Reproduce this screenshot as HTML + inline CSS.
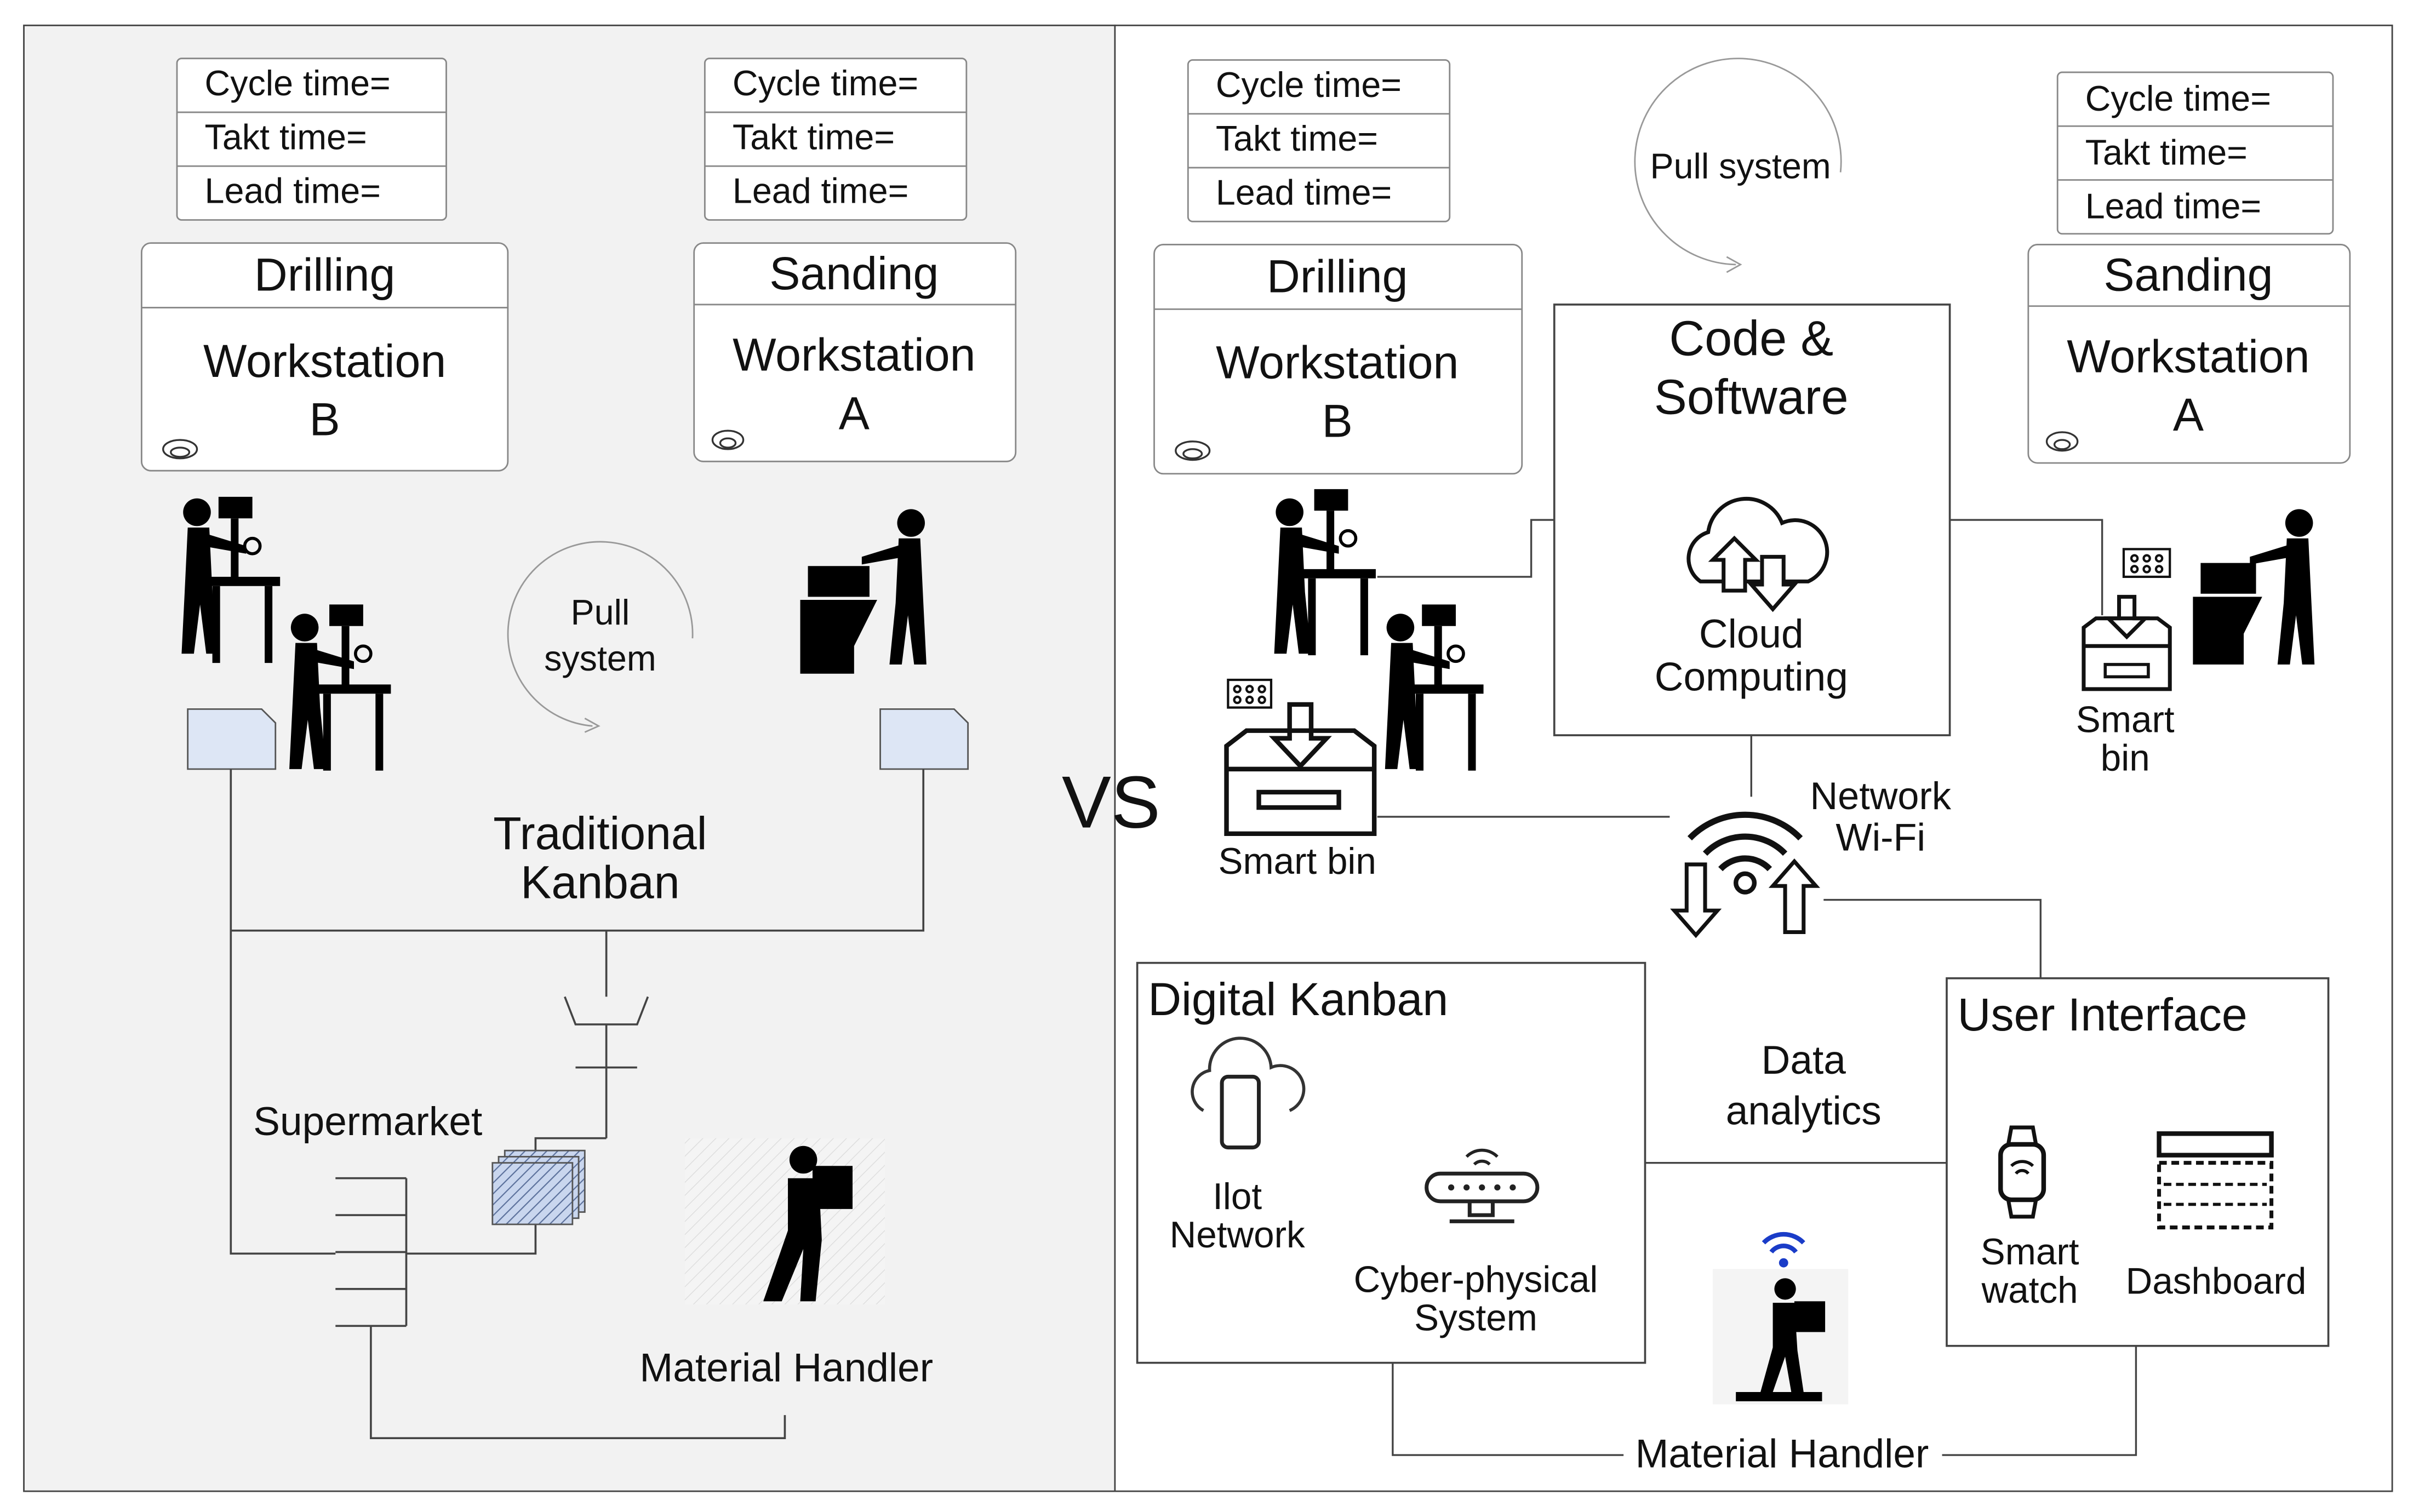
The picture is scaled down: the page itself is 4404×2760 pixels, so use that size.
<!DOCTYPE html>
<html><head><meta charset="utf-8"><style>
html,body{margin:0;padding:0;background:#fff;}
svg{display:block;}
text{font-family:"Liberation Sans",Arial,sans-serif;fill:#111;}
</style></head><body>
<svg width="4404" height="2760" viewBox="0 0 1568 983" preserveAspectRatio="none" xmlns="http://www.w3.org/2000/svg">
<defs>
<pattern id="hat" width="5" height="5" patternUnits="userSpaceOnUse" patternTransform="rotate(45)"><rect width="5" height="5" fill="#c9d6ee"/><line x1="0" y1="0" x2="0" y2="5" stroke="#5a6f9a" stroke-width="1.5"/></pattern>
<pattern id="hat2" width="6" height="6" patternUnits="userSpaceOnUse" patternTransform="rotate(45)"><rect width="6" height="6" fill="#f4f4f4"/><line x1="0" y1="0" x2="0" y2="6" stroke="#ddd" stroke-width="1"/></pattern>
<g id="worker">
<circle cx="0" cy="-52" r="9" fill="#000"/>
<path d="M-6,-42 L8,-42 L10,0 L14,40 L6,40 L2,8 L-2,40 L-10,40 L-8,0 Z" fill="#000"/>
<path d="M6,-38 L32,-30 L32,-25 L4,-30 Z" fill="#000"/>
</g>
<g id="drill">
<rect x="-8" y="-62" width="22" height="14" fill="#000"/>
<rect x="0" y="-48" width="5" height="40" fill="#000"/>
<rect x="-16" y="-10" width="48" height="6" fill="#000"/>
<rect x="-12" y="-4" width="5" height="50" fill="#000"/>
<rect x="22" y="-4" width="5" height="50" fill="#000"/>
<circle cx="14" cy="-30" r="5" fill="none" stroke="#000" stroke-width="2"/>
</g>
</defs>
<rect x="0" y="0" width="1568" height="983" fill="#fff"/>
<rect x="15.5" y="16.5" width="709" height="953" fill="#f2f2f2" stroke="#444" stroke-width="1"/>
<rect x="724.5" y="16.5" width="830" height="953" fill="#fff" stroke="#444" stroke-width="1"/>

<g stroke="#888" stroke-width="1" fill="#fff">
<rect x="115" y="38" width="175" height="105" rx="3"/><line x1="115" y1="73" x2="290" y2="73"/><line x1="115" y1="108" x2="290" y2="108"/>
<rect x="458" y="38" width="170" height="105" rx="3"/><line x1="458" y1="73" x2="628" y2="73"/><line x1="458" y1="108" x2="628" y2="108"/>
<rect x="772" y="39" width="170" height="105" rx="3"/><line x1="772" y1="74" x2="942" y2="74"/><line x1="772" y1="109" x2="942" y2="109"/>
<rect x="1337" y="47" width="179" height="105" rx="3"/><line x1="1337" y1="82" x2="1516" y2="82"/><line x1="1337" y1="117" x2="1516" y2="117"/>
<rect x="92" y="158" width="238" height="148" rx="6"/><line x1="92" y1="200" x2="330" y2="200"/>
<rect x="451" y="158" width="209" height="142" rx="6"/><line x1="451" y1="198" x2="660" y2="198"/>
<rect x="750" y="159" width="239" height="149" rx="6"/><line x1="750" y1="201" x2="989" y2="201"/>
<rect x="1318" y="159" width="209" height="142" rx="6"/><line x1="1318" y1="199" x2="1527" y2="199"/>
</g>
<g font-size="23">
<text x="133" y="62">Cycle time=</text><text x="133" y="97">Takt time=</text><text x="133" y="132">Lead time=</text>
<text x="476" y="62">Cycle time=</text><text x="476" y="97">Takt time=</text><text x="476" y="132">Lead time=</text>
<text x="790" y="63">Cycle time=</text><text x="790" y="98">Takt time=</text><text x="790" y="133">Lead time=</text>
<text x="1355" y="72">Cycle time=</text><text x="1355" y="107">Takt time=</text><text x="1355" y="142">Lead time=</text>
</g>
<g font-size="30" text-anchor="middle">
<text x="211" y="189">Drilling</text><text x="211" y="245">Workstation</text><text x="211" y="283">B</text>
<text x="555" y="188">Sanding</text><text x="555" y="241">Workstation</text><text x="555" y="279">A</text>
<text x="869" y="190">Drilling</text><text x="869" y="246">Workstation</text><text x="869" y="284">B</text>
<text x="1422" y="189">Sanding</text><text x="1422" y="242">Workstation</text><text x="1422" y="280">A</text>
</g>
<g fill="none" stroke="#333" stroke-width="1.2">
<ellipse cx="117" cy="292" rx="11" ry="6"/><ellipse cx="117" cy="294" rx="6" ry="3"/>
<ellipse cx="473" cy="286" rx="10" ry="6"/><ellipse cx="473" cy="288" rx="5" ry="3"/>
<ellipse cx="775" cy="293" rx="11" ry="6"/><ellipse cx="775" cy="295" rx="6" ry="3"/>
<ellipse cx="1340" cy="287" rx="10" ry="6"/><ellipse cx="1340" cy="289" rx="5" ry="3"/>
</g>

<use href="#drill" x="150" y="385"/><use href="#worker" x="128" y="385"/>
<use href="#drill" x="222" y="455"/><use href="#worker" x="198" y="460"/>
<g><rect x="525" y="368" width="40" height="20" fill="#000"/><path d="M520,390 L570,390 L555,420 L555,438 L520,438 Z" fill="#000"/><use href="#worker" transform="translate(592,392) scale(-1,1)"/></g>

<path d="M450,415 A60,60 0 1,0 385,472" fill="none" stroke="#999" stroke-width="1"/>
<path d="M380,467 L389,472 L380,476" fill="none" stroke="#999"/>
<text x="390" y="406" font-size="23" text-anchor="middle">Pull</text>
<text x="390" y="436" font-size="23" text-anchor="middle">system</text>
<path d="M1196,112 A67,67 0 1,0 1128,172" fill="none" stroke="#999" stroke-width="1"/>
<path d="M1122,167 L1131,172 L1122,177" fill="none" stroke="#999"/>
<text x="1131" y="116" font-size="23" text-anchor="middle">Pull system</text>

<path d="M122,461 L170,461 L179,470 L179,500 L122,500 Z" fill="#dde6f5" stroke="#555"/>
<path d="M572,461 L620,461 L629,470 L629,500 L572,500 Z" fill="#dde6f5" stroke="#555"/>

<text x="722" y="538" font-size="48" text-anchor="middle">VS</text>
<text x="390" y="552" font-size="30" text-anchor="middle">Traditional</text>
<text x="390" y="584" font-size="30" text-anchor="middle">Kanban</text>

<g fill="none" stroke="#444" stroke-width="1.3">
<polyline points="150,500 150,605 600,605 600,500"/>
<line x1="394" y1="605" x2="394" y2="648"/>
<path d="M367,648 L374,666 L414,666 L421,648"/>
<line x1="394" y1="666" x2="394" y2="740"/><line x1="374" y1="694" x2="414" y2="694"/>
<polyline points="394,740 348,740 348,748"/>
<polyline points="348,795 348,815 264,815"/>
<line x1="264" y1="766" x2="264" y2="862"/>
<line x1="218" y1="766" x2="264" y2="766"/><line x1="218" y1="790" x2="264" y2="790"/><line x1="218" y1="814" x2="264" y2="814"/><line x1="218" y1="838" x2="264" y2="838"/><line x1="218" y1="862" x2="264" y2="862"/>
<polyline points="150,605 150,815 218,815"/>
<polyline points="241,862 241,935 510,935 510,920"/>
</g>
<rect x="328" y="748" width="52" height="40" fill="url(#hat)" stroke="#555"/>
<rect x="324" y="752" width="52" height="40" fill="url(#hat)" stroke="#555"/>
<rect x="320" y="756" width="52" height="40" fill="url(#hat)" stroke="#555"/>
<text x="239" y="738" font-size="26" text-anchor="middle">Supermarket</text>
<rect x="445" y="740" width="130" height="108" fill="url(#hat2)"/>
<g><circle cx="522" cy="754" r="9" fill="#000"/><path d="M512,766 L532,766 L534,806 L530,846 L520,846 L522,812 L508,846 L496,846 L512,800 Z" fill="#000"/><rect x="528" y="758" width="26" height="28" fill="#000"/></g>
<text x="511" y="898" font-size="26" text-anchor="middle">Material Handler</text>

<rect x="1010" y="198" width="257" height="280" fill="#fff" stroke="#444" stroke-width="1.3"/>
<text x="1138" y="231" font-size="32" text-anchor="middle">Code &amp;</text>
<text x="1138" y="269" font-size="32" text-anchor="middle">Software</text>
<path d="M1105,378 A18,18 0 0,1 1110,346 A25,25 0 0,1 1158,340 A20,20 0 0,1 1175,378 Z" fill="none" stroke="#111" stroke-width="2.5"/>
<path d="M1120,384 L1120,364 L1113,364 L1127,350 L1141,364 L1134,364 L1134,384Z" fill="#fff" stroke="#111" stroke-width="2.5"/>
<path d="M1145,362 L1145,380 L1138,380 L1152,396 L1166,380 L1159,380 L1159,362Z" fill="#fff" stroke="#111" stroke-width="2.5"/>
<text x="1138" y="421" font-size="26" text-anchor="middle">Cloud</text>
<text x="1138" y="449" font-size="26" text-anchor="middle">Computing</text>

<use href="#drill" x="862" y="380"/><use href="#worker" x="838" y="385"/>
<use href="#drill" x="932" y="455"/><use href="#worker" x="910" y="460"/>
<g><rect x="1430" y="366" width="36" height="20" fill="#000"/><path d="M1425,388 L1470,388 L1458,412 L1458,432 L1425,432 Z" fill="#000"/><use href="#worker" transform="translate(1494,392) scale(-1,1)"/></g>

<g fill="none" stroke="#444" stroke-width="1.2">
<polyline points="1010,338 995,338 995,375 895,375"/>
<polyline points="1267,338 1366,338 1366,400"/>
<line x1="895" y1="531" x2="1085" y2="531"/>
<line x1="1138" y1="478" x2="1138" y2="518"/>
<polyline points="1185,585 1326,585 1326,636"/>
<line x1="1069" y1="756" x2="1265" y2="756"/>
<polyline points="905,886 905,946 1055,946"/>
<polyline points="1262,946 1388,946 1388,875"/>
</g>
<g fill="none" stroke="#111" stroke-width="3">
<path d="M797,485 L810,475 L880,475 L893,485 L893,542 L797,542 Z"/><path d="M797,500 L893,500"/><rect x="818" y="515" width="52" height="10"/>
<path d="M838,458 L838,480 L828,480 L845,498 L862,480 L852,480 L852,458Z"/>
<path d="M1354,408 L1362,402 L1402,402 L1410,408 L1410,448 L1354,448 Z" stroke-width="2.5"/><path d="M1354,420 L1410,420" stroke-width="2.5"/><rect x="1368" y="432" width="28" height="8" stroke-width="2"/>
<path d="M1377,388 L1377,402 L1370,402 L1382,414 L1394,402 L1387,402 L1387,388Z" stroke-width="2.5"/>
</g>
<g fill="none" stroke="#111" stroke-width="1.5">
<rect x="798" y="442" width="28" height="18"/><circle cx="804" cy="448" r="2"/><circle cx="812" cy="448" r="2"/><circle cx="820" cy="448" r="2"/><circle cx="804" cy="455" r="2"/><circle cx="812" cy="455" r="2"/><circle cx="820" cy="455" r="2"/>
<rect x="1380" y="357" width="30" height="18"/><circle cx="1387" cy="363" r="2"/><circle cx="1395" cy="363" r="2"/><circle cx="1403" cy="363" r="2"/><circle cx="1387" cy="370" r="2"/><circle cx="1395" cy="370" r="2"/><circle cx="1403" cy="370" r="2"/>
</g>
<text x="843" y="568" font-size="24" text-anchor="middle">Smart bin</text>
<text x="1381" y="476" font-size="24" text-anchor="middle">Smart</text>
<text x="1381" y="501" font-size="24" text-anchor="middle">bin</text>

<g fill="none" stroke="#111" stroke-width="4">
<path d="M1098,545 A50,50 0 0,1 1170,545"/><path d="M1108,555 A36,36 0 0,1 1160,555"/><path d="M1118,565 A22,22 0 0,1 1150,565"/>
</g>
<circle cx="1134" cy="574" r="6" fill="none" stroke="#111" stroke-width="3"/>
<path d="M1096,562 L1096,592 L1088,592 L1102,608 L1116,592 L1108,592 L1108,562Z" fill="none" stroke="#111" stroke-width="2.5"/>
<path d="M1160,606 L1160,576 L1152,576 L1166,560 L1180,576 L1172,576 L1172,606Z" fill="none" stroke="#111" stroke-width="2.5"/>
<text x="1222" y="526" font-size="25" text-anchor="middle">Network</text>
<text x="1222" y="553" font-size="25" text-anchor="middle">Wi-Fi</text>

<rect x="739" y="626" width="330" height="260" fill="none" stroke="#444" stroke-width="1.3"/>
<text x="746" y="660" font-size="30">Digital Kanban</text>
<path d="M782,722 A14,14 0 0,1 786,696 A20,20 0 0,1 826,694 A15,15 0 0,1 838,722" fill="none" stroke="#333" stroke-width="2"/>
<rect x="794" y="700" width="24" height="46" rx="4" fill="#fff" stroke="#222" stroke-width="2.5"/>
<text x="804" y="786" font-size="24" text-anchor="middle">Ilot</text>
<text x="804" y="811" font-size="24" text-anchor="middle">Network</text>
<rect x="927" y="763" width="72" height="18" rx="9" fill="none" stroke="#222" stroke-width="2.5"/>
<circle cx="943" cy="772" r="2" fill="#222"/><circle cx="953" cy="772" r="2" fill="#222"/><circle cx="963" cy="772" r="2" fill="#222"/><circle cx="973" cy="772" r="2" fill="#222"/><circle cx="983" cy="772" r="2" fill="#222"/>
<path d="M955,781 L955,790 L970,790 L970,781 M942,794 L984,794" fill="none" stroke="#222" stroke-width="2.5"/>
<path d="M953,752 A14,14 0 0,1 973,752 M958,757 A7,7 0 0,1 968,757" fill="none" stroke="#222" stroke-width="2"/>
<text x="959" y="840" font-size="24" text-anchor="middle">Cyber-physical</text>
<text x="959" y="865" font-size="24" text-anchor="middle">System</text>

<text x="1172" y="698" font-size="26" text-anchor="middle">Data</text>
<text x="1172" y="731" font-size="26" text-anchor="middle">analytics</text>

<rect x="1265" y="636" width="248" height="239" fill="none" stroke="#444" stroke-width="1.3"/>
<text x="1272" y="670" font-size="30">User Interface</text>
<rect x="1300" y="744" width="28" height="36" rx="7" fill="none" stroke="#111" stroke-width="3"/>
<path d="M1305,744 L1307,733 L1321,733 L1323,744 M1305,780 L1307,791 L1321,791 L1323,780" fill="none" stroke="#111" stroke-width="2.5"/>
<path d="M1307,758 A10,10 0 0,1 1321,758 M1310,763 A5,5 0 0,1 1318,763" fill="none" stroke="#111" stroke-width="2"/>
<text x="1319" y="822" font-size="24" text-anchor="middle">Smart</text>
<text x="1319" y="847" font-size="24" text-anchor="middle">watch</text>
<rect x="1403" y="737" width="73" height="14" fill="none" stroke="#111" stroke-width="3"/>
<rect x="1403" y="756" width="73" height="42" fill="none" stroke="#111" stroke-width="2.5" stroke-dasharray="5,3"/>
<line x1="1406" y1="770" x2="1473" y2="770" stroke="#111" stroke-width="2" stroke-dasharray="5,3"/>
<line x1="1406" y1="783" x2="1473" y2="783" stroke="#111" stroke-width="2" stroke-dasharray="5,3"/>
<text x="1440" y="841" font-size="24" text-anchor="middle">Dashboard</text>

<rect x="1113" y="825" width="88" height="88" fill="#f4f4f4"/>
<path d="M1146,808 A18,18 0 0,1 1172,808 M1151,814 A10,10 0 0,1 1167,814" fill="none" stroke="#1a3cc8" stroke-width="3"/><circle cx="1159" cy="821" r="3" fill="#1a3cc8"/>
<circle cx="1160" cy="838" r="7" fill="#000"/>
<path d="M1152,847 L1166,847 L1168,878 L1172,905 L1164,905 L1160,882 L1152,905 L1144,905 L1152,876 Z" fill="#000"/>
<rect x="1166" y="846" width="20" height="20" fill="#000"/>
<rect x="1128" y="905" width="56" height="6" fill="#000"/>
<text x="1158" y="954" font-size="26" text-anchor="middle">Material Handler</text>
</svg>
</body></html>
